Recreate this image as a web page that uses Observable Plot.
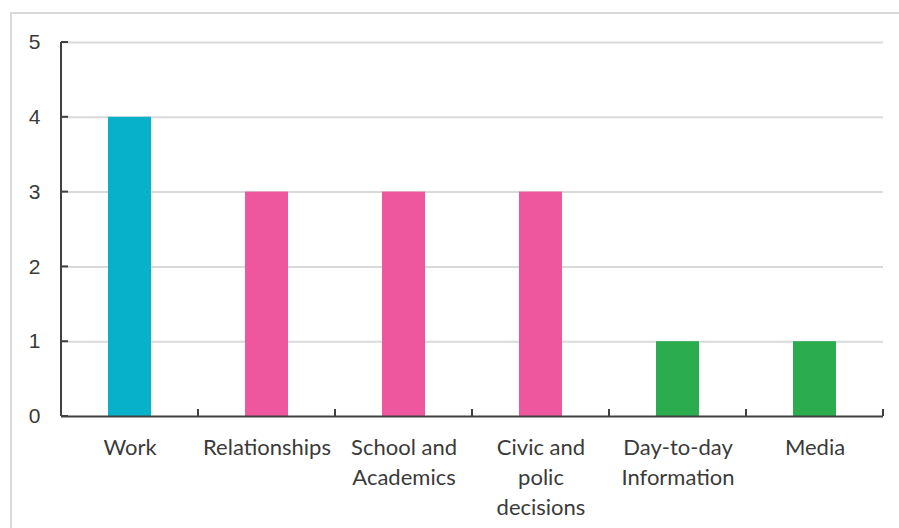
<!DOCTYPE html>
<html>
<head>
<meta charset="utf-8">
<script src="https://cdn.jsdelivr.net/npm/d3@7"></script>
<script src="https://cdn.jsdelivr.net/npm/@observablehq/plot@0.6"></script>
<style>
  html, body { margin: 0; padding: 0; background: #fff; }
  #wrap { position: relative; width: 899px; height: 528px; overflow: hidden; }
  #border { position: absolute; left: 10px; top: 12px; width: 1000px; height: 1000px;
            border-top: 2px solid #d9d9d9; border-left: 2px solid #d9d9d9; pointer-events: none; }
</style>
</head>
<body>
<div id="wrap"><div id="border"></div></div>
<script>
const categories = ["Work", "Relationships", "School and Academics", "Civic and polic decisions", "Day-to-day Information", "Media"];
const labels = ["Work", "Relationships", "School and\nAcademics", "Civic and\npolic\ndecisions", "Day-to-day\nInformation", "Media"];
const values = [4, 3, 3, 3, 1, 1];
const groups = ["g1", "g2", "g2", "g2", "g3", "g3"];
const yTicks = [0, 1, 2, 3, 4, 5];

const data = categories.map((c, i) => ({category: c, label: labels[i], value: values[i], group: groups[i]}));

const axisColor = "#404040";
const textColor = "#3a3a3a";

// axis decorations drawn through the scales: y axis line, inward y ticks, x band-boundary ticks
const axisTicks = (index, scales, values, dims) => {
  const x = scales.x, y = scales.y;
  const g = d3.create("svg:g");
  const step = x(categories[1]) - x(categories[0]);
  const bw = step * (1 - 0.686);
  const x0 = dims.marginLeft;
  g.append("line")
    .attr("x1", x0).attr("x2", x0)
    .attr("y1", y(0)).attr("y2", y(5))
    .attr("stroke", axisColor).attr("stroke-width", 2);
  for (const t of yTicks) {
    g.append("line")
      .attr("x1", x0).attr("x2", x0 + 7)
      .attr("y1", y(t)).attr("y2", y(t))
      .attr("stroke", axisColor).attr("stroke-width", 2);
  }
  for (const c of categories) {
    const bx = x(c) + bw / 2 + step / 2;
    g.append("line")
      .attr("x1", bx).attr("x2", bx)
      .attr("y1", y(0)).attr("y2", y(0) - 7)
      .attr("stroke", axisColor).attr("stroke-width", 2);
  }
  return g.node();
};

const chart = Plot.plot({
  width: 899,
  height: 528,
  marginLeft: 61,
  marginRight: 16,
  marginTop: 42,
  marginBottom: 112,
  style: {background: "transparent", overflow: "visible"},
  x: {domain: categories, paddingInner: 0.686, paddingOuter: 0.343, axis: null},
  y: {domain: [0, 5], axis: null},
  color: {domain: ["g1", "g2", "g3"], range: ["#07b1c9", "#ee569e", "#2bad4f"]},
  marks: [
    Plot.gridY(yTicks.filter(t => t > 0), {stroke: "#d9d9d9", strokeOpacity: 1, strokeWidth: 2}),
    Plot.barY(data, {x: "category", y: "value", fill: "group"}),
    Plot.ruleY([0], {stroke: axisColor, strokeWidth: 2}),
    axisTicks,
    Plot.text(yTicks, {
      y: d => d, frameAnchor: "left", dx: -21, textAnchor: "end",
      text: d => String(d), fontSize: 21, fill: textColor,
      fontFamily: "'Liberation Sans', Arial, sans-serif"
    }),
    Plot.text(data, {
      x: "category", y: () => 0, text: "label", lineAnchor: "top", dy: 17,
      fontSize: 22, lineHeight: 1.36, fill: textColor,
      fontFamily: "Lato, 'Open Sans', sans-serif"
    })
  ]
});
document.getElementById("wrap").insertBefore(chart, document.getElementById("border"));
</script>
</body>
</html>
